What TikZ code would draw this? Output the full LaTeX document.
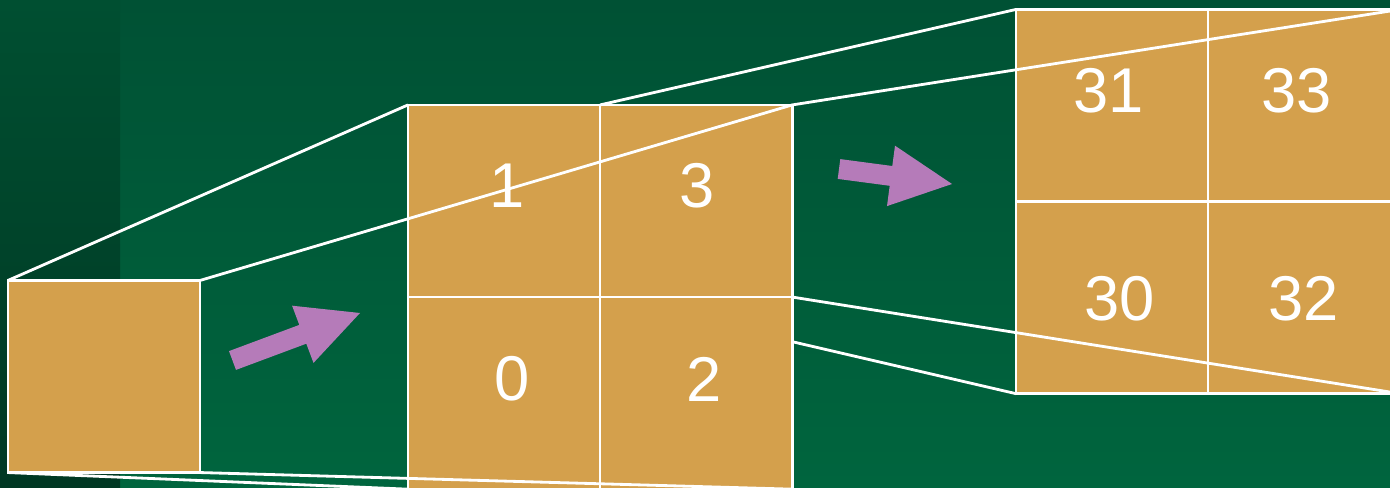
\documentclass[tikz,border=0pt]{standalone}
\usepackage{fontspec}
\setmainfont{Liberation Sans}
\usepackage{tikz}
\usetikzlibrary{positioning}
\definecolor{BgTop}{HTML}{005134}
\definecolor{BgBottom}{HTML}{00653E}
\definecolor{StripTop}{HTML}{004F31}
\definecolor{StripBottom}{HTML}{003823}
\definecolor{CellGold}{HTML}{D4A04C}
\definecolor{ArrowPurple}{HTML}{B57BB9}

\pgfdeclarelayer{under}
\pgfsetlayers{under,main}

\begin{document}
\begin{tikzpicture}[
  x=0.01cm, y=-0.01cm,
  node distance=0pt,
  cell/.style={draw=white, line width=0.8pt, fill=CellGold, minimum width=1.92cm, minimum height=1.92cm, inner sep=0pt, outer sep=0pt},
  num/.style={text=white, font=\fontsize{18}{20}\selectfont, inner sep=0pt},
  proj/.style={draw=white, line width=0.8pt},
  bigarrow/.style={fill=ArrowPurple}
]
  \useasboundingbox (0,0) rectangle (1390,488);
  \clip (0,0) rectangle (1390,488);

  \begin{pgfonlayer}{under}
    \shade[top color=BgTop, bottom color=BgBottom] (0,0) rectangle (1390,488);
    \shade[top color=StripTop, bottom color=StripBottom] (0,0) rectangle (120,488);
  \end{pgfonlayer}

  % parent cell
  \node[cell] (root) at (104,376.5) {};

  % first split
  \node[cell] (c1) at (504,201) {};
  \node[cell, right=of c1] (c3) {};
  \node[cell, below=of c1] (c0) {};
  \node[cell, right=of c0] (c2) {};

  % second split
  \node[cell] (d31) at (1112,105.5) {};
  \node[cell, right=of d31] (d33) {};
  \node[cell, below=of d31] (d30) {};
  \node[cell, right=of d30] (d32) {};

  \begin{pgfonlayer}{under}
    \draw[proj] (c3.south west) -- (d30.south west);
  \end{pgfonlayer}

  \draw[proj] (root.north west) -- (c1.north west);
  \draw[proj] (root.north east) -- (c3.north east);
  \draw[proj] (root.south west) -- (c0.south west);
  \draw[proj] (root.south east) -- (c2.south east);
  \draw[proj] (c3.north west) -- (d31.north west);
  \draw[proj] (c3.north east) -- (d33.north east);
  \draw[proj] (c3.south east) -- (d32.south east);

  \node[num] (n1) at (507.5,186) {1};
  \node[num] (n3) at (697,186) {3};
  \node[num] (n0) at (512.5,379) {0};
  \node[num] (n2) at (704,379) {2};
  \node[num] (n31) at (1109,91) {31};
  \node[num] (n33) at (1296.5,91) {33};
  \node[num] (n30) at (1120,299) {30};
  \node[num] (n32) at (1304,299) {32};

  \fill[bigarrow] (229.0,351.1) -- (299.3,324.9) -- (292.1,305.7) -- (360,313)
    -- (313.5,362.9) -- (306.3,343.7) -- (236.0,369.9) -- cycle;
  \fill[bigarrow] (840.3,159.1) -- (892.3,166.0) -- (895.0,145.7) -- (952,184)
    -- (887.0,206.1) -- (889.7,185.8) -- (837.7,178.9) -- cycle;
\end{tikzpicture}
\end{document}
